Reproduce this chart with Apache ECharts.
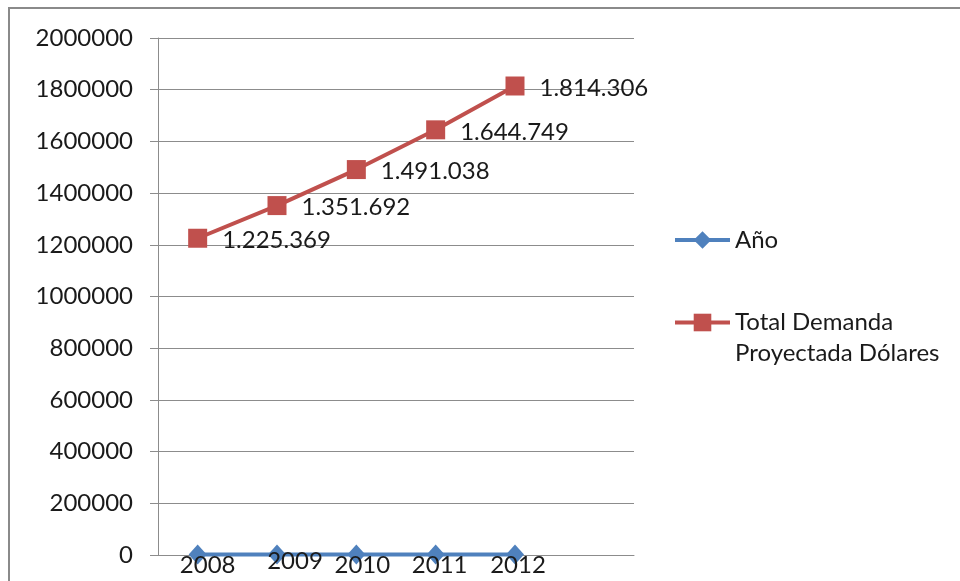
<!DOCTYPE html>
<html>
<head>
<meta charset="utf-8">
<script src="https://cdn.jsdelivr.net/npm/echarts@6/dist/echarts.min.js"></script>
<style>
  html, body { margin: 0; padding: 0; background: #fff; }
  #chart { width: 960px; height: 581px; }
</style>
</head>
<body>
<div id="chart"></div>
<script>
// Category slots (the last slot is left empty, as in the original sheet)
const categories = ['2008', '2009', '2010', '2011', '2012', ''];
// Series values
const anio = [2008, 2009, 2010, 2011, 2012];
const totalDemanda = [1225369, 1351692, 1491038, 1644749, 1814306];
// Series names
const nameAnio = 'Año';
const nameTotal = 'Total Demanda Proyectada Dólares';

// Small nudges so the year labels sit like the original layout
const anioLabelOffsets = [[10, 11], [18, 7], [6, 11], [4, 11], [3, 11]];

const FONT = 'Lato';
const FS = 24;
const TEXT = '#1a1a1a';
const BLUE = '#4F81BD';
const RED = '#C0504D';
const GRID = '#8c8c8c';

// Spanish thousands separator: 1225369 -> 1.225.369
function fmtES(v) {
  return String(v).replace(/\B(?=(\d{3})+(?!\d))/g, '.');
}

const chart = echarts.init(document.getElementById('chart'), null, { renderer: 'canvas' });

chart.setOption({
  backgroundColor: '#ffffff',
  animation: false,
  textStyle: { fontFamily: FONT },
  graphic: [{
    type: 'rect',
    shape: { x: 9, y: 8, width: 1200, height: 800 },
    style: { fill: 'none', stroke: '#8a8a8a', lineWidth: 2 },
    silent: true,
    z: -1
  }],
  grid: { left: 158, right: 326, top: 38, bottom: 26, containLabel: false },
  legend: [{
    data: [nameAnio],
    orient: 'vertical',
    left: 673,
    top: 228,
    padding: 0,
    itemWidth: 55,
    itemHeight: 22,
    itemGap: 0,
    lineStyle: { width: 4 },
    textStyle: { fontFamily: FONT, fontSize: FS, color: TEXT }
  }, {
    data: [nameTotal],
    orient: 'vertical',
    left: 673,
    top: 276,
    padding: 0,
    itemWidth: 55,
    itemHeight: 22,
    itemGap: 0,
    lineStyle: { width: 4 },
    // blank first line keeps the icon level with "Total Demanda"
    formatter: () => ' \nTotal Demanda\nProyectada Dólares',
    textStyle: { fontFamily: FONT, fontSize: FS, color: TEXT, lineHeight: 31 }
  }],
  xAxis: {
    type: 'category',
    data: categories,
    boundaryGap: true,
    axisLine: { show: true, lineStyle: { color: GRID, width: 1 } },
    axisTick: { show: false },
    axisLabel: { show: false },
    splitLine: { show: false }
  },
  yAxis: {
    type: 'value',
    min: 0,
    max: 2000000,
    interval: 200000,
    axisLine: { show: true, lineStyle: { color: GRID, width: 1 } },
    axisTick: { show: true, length: 8, lineStyle: { color: GRID } },
    axisLabel: {
      margin: 25,
      formatter: v => String(v),
      fontFamily: FONT, fontSize: FS, color: TEXT
    },
    splitLine: { show: true, lineStyle: { color: GRID, width: 1 } }
  },
  series: [{
    name: nameAnio,
    type: 'line',
    data: anio.map((v, i) => ({
      value: v,
      label: { offset: anioLabelOffsets[i] }
    })),
    symbol: 'diamond',
    symbolSize: [18, 20],
    itemStyle: { color: BLUE },
    lineStyle: { color: BLUE, width: 4 },
    label: {
      show: true,
      position: 'inside',
      fontFamily: FONT, fontSize: FS, color: TEXT
    },
    z: 3
  }, {
    name: nameTotal,
    type: 'line',
    data: totalDemanda,
    symbol: 'rect',
    symbolSize: 19,
    itemStyle: { color: RED },
    lineStyle: { color: RED, width: 4 },
    label: {
      show: true,
      position: 'right',
      distance: 15,
      offset: [0, 2],
      formatter: p => fmtES(p.value),
      fontFamily: FONT, fontSize: FS, color: TEXT
    },
    z: 2
  }]
});
</script>
</body>
</html>
